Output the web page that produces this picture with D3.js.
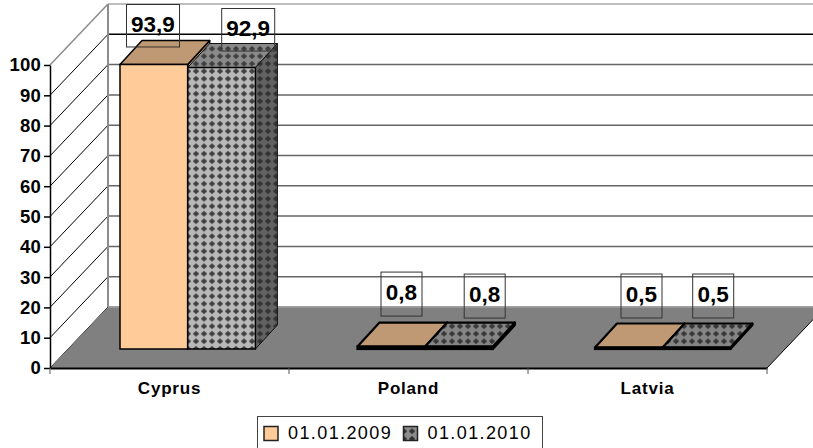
<!DOCTYPE html>
<html>
<head>
<meta charset="utf-8">
<script src="https://cdn.jsdelivr.net/npm/d3@7"></script>
<style>
    html, body { margin: 0; padding: 0; background: #fff; }
    svg { display: block; }
    text { font-family: "Liberation Sans", Arial, sans-serif; fill: #000; }
</style>
</head>
<body>
<svg width="813" height="448"></svg>
<script>
const categories = ["Cyprus", "Poland", "Latvia"];
const seriesNames = ["01.01.2009", "01.01.2010"];
const values2009 = [93.9, 0.8, 0.5];
const values2010 = [92.9, 0.8, 0.5];
const yTicks = [0, 10, 20, 30, 40, 50, 60, 70, 80, 90, 100];

const W = 813, H = 448;
const plot = {left: 50, right: 767, base: 368, top: 65};
const wall = {dx: 58, dy: 61};       // depth of the whole chart box
const bar = {dx: 22, dy: 24, lift: 19, start: 120, step: 237.5, width: 67.7};

// hand placed data labels, relative to the back top edge of each bar
const labelNudge = [
    [[-15.5, -36], [12, -35]],
    [[1.5, -50.5], [17, -48.5]],
    [[4, -49.5], [8, -49.5]]
];

const svg = d3.select("svg");
const defs = svg.append("defs");

function dots(id, bg, fg){
    const p = defs.append("pattern")
        .attr("id", id)
        .attr("patternUnits", "userSpaceOnUse")
        .attr("width", 8)
        .attr("height", 7.5);
    p.append("rect").attr("width", 8).attr("height", 7.5).attr("fill", bg);
    p.append("path").attr("d", "M4 0.8L5.2 2.2L6.2 2.6L7 3.8L6.2 5L5.2 5.4L4 6.8L2.8 5.4L1.8 5L1 3.8L1.8 2.6L2.8 2.2Z").attr("fill", fg);
}
dots("dotFront", "#b8b8b8", "#404040");
dots("dotTop", "#8a8a8a", "#404040");
dots("dotSide", "#626262", "#333333");
dots("dotFlat", "#858585", "#383838");
dots("dotLegend", "#8c8c8c", "#333333");

const x = d3.scaleBand().domain(categories).range([plot.left, plot.right]);
const xBar = d3.scaleBand().domain(categories).range([bar.start, bar.start + bar.step * categories.length]);
const y = d3.scaleLinear().domain([0, 100]).range([plot.base, plot.top]);
// bars stand on the floor, a bit behind the front edge
const yBar = d3.scaleLinear().domain([0, 100]).range([plot.base - bar.lift, plot.top - bar.lift]);
const line = d3.line();
const poly = pts => line(pts) + "Z";

// side wall and back wall
svg.append("path")
    .attr("d", poly([[plot.left, y(100)], [plot.left + wall.dx, y(100) - wall.dy], [plot.left + wall.dx, plot.base - wall.dy], [plot.left, plot.base]]))
    .attr("fill", "#fff");

svg.append("g").selectAll("line").data(yTicks).join("line")
    .attr("x1", plot.left)
    .attr("y1", d => y(d))
    .attr("x2", plot.left + wall.dx)
    .attr("y2", d => y(d) - wall.dy)
    .attr("stroke", d => d == 100 ? "#8c8c8c" : "#000")
    .attr("stroke-width", d => d == 100 ? 1.5 : 1);

svg.append("g").selectAll("line").data(yTicks).join("line")
    .attr("x1", plot.left + wall.dx)
    .attr("y1", d => y(d) - wall.dy)
    .attr("x2", W)
    .attr("y2", d => y(d) - wall.dy)
    .attr("stroke", d => d == 100 ? "#a8a8a8" : (d == 90 ? "#000" : "#666"))
    .attr("stroke-width", 1.5);

svg.append("line")
    .attr("x1", plot.left + wall.dx).attr("x2", plot.left + wall.dx)
    .attr("y1", y(100) - wall.dy).attr("y2", plot.base - wall.dy)
    .attr("stroke", "#8c8c8c").attr("stroke-width", 2);

// floor
svg.append("path")
    .attr("d", poly([[plot.left, plot.base], [plot.left + wall.dx, plot.base - wall.dy], [plot.right + wall.dx, plot.base - wall.dy], [plot.right, plot.base]]))
    .attr("fill", "#808080");
svg.append("line")
    .attr("x1", plot.left + wall.dx).attr("x2", W)
    .attr("y1", plot.base - wall.dy).attr("y2", plot.base - wall.dy)
    .attr("stroke", "#b0b0b0").attr("stroke-width", 1);
svg.append("line")
    .attr("x1", plot.right).attr("y1", plot.base)
    .attr("x2", plot.right + wall.dx).attr("y2", plot.base - wall.dy)
    .attr("stroke", "#000").attr("stroke-width", 1);

// bars, one group per series
const series = [
    {values: values2009, front: "#ffcc99", top: "#bf9973", side: "#bf9973", edge: 1.5, edgeColor: "#000"},
    {values: values2010, front: "url(#dotFront)", top: "url(#dotTop)", side: "url(#dotSide)", edge: 1, edgeColor: "#111"}
];

function drawBar(g, x0, v, s){
    const x1 = x0 + bar.width, b = yBar(0), t = yBar(v);
    const flat = v < 5;
    const edge = flat ? 2.2 : s.edge;
    const color = flat ? "#000" : s.edgeColor;
    g.append("path")
        .attr("d", poly([[x1, b], [x1 + bar.dx, b - bar.dy], [x1 + bar.dx, t - bar.dy], [x1, t]]))
        .attr("fill", s.side)
        .attr("stroke", color).attr("stroke-width", edge).attr("stroke-linejoin", "round");
    g.append("path")
        .attr("d", poly([[x0, t], [x0 + bar.dx, t - bar.dy], [x1 + bar.dx, t - bar.dy], [x1, t]]))
        .attr("fill", flat && s.top != series[0].top ? "url(#dotFlat)" : s.top)
        .attr("stroke", color).attr("stroke-width", edge).attr("stroke-linejoin", "round");
    g.append("rect")
        .attr("x", x0).attr("y", t)
        .attr("width", bar.width).attr("height", b - t)
        .attr("fill", flat ? "#000" : s.front)
        .attr("stroke", "#000").attr("stroke-width", flat ? 2.2 : 1.5);
}

const barsG = svg.append("g");
categories.forEach((c, i) => {
    series.forEach((s, j) => {
        drawBar(barsG, xBar(c) + j * bar.width, s.values[i], s);
    });
});

// data labels
const labelsG = svg.append("g");
categories.forEach((c, i) => {
    series.forEach((s, j) => {
        const v = s.values[i];
        const n = labelNudge[i][j];
        const bx = xBar(c) + j * bar.width + bar.dx + n[0];
        const by = yBar(v) - bar.dy + n[1];
        const w = v > 5 ? 53 : 41, h = v > 5 ? 42.5 : 44;
        labelsG.append("rect")
            .attr("x", bx).attr("y", by)
            .attr("width", w).attr("height", h)
            .attr("fill", "none")
            .attr("stroke", "#333").attr("stroke-width", 1);
        labelsG.append("text")
            .attr("x", bx + w / 2)
            .attr("y", by + (v > 5 ? 27.5 : 28))
            .attr("text-anchor", "middle")
            .attr("font-size", 22.5)
            .attr("font-weight", "bold")
            .text(String(v).replace(".", ","));
    });
});

// axes
const yAxis = svg.append("g")
    .attr("transform", `translate(${plot.left},0)`)
    .call(d3.axisLeft(y).tickValues(yTicks).tickSize(6).tickPadding(3).tickSizeOuter(0));
yAxis.select(".domain").attr("stroke", "#000").attr("stroke-width", 1.5);
yAxis.selectAll(".tick line").attr("stroke", "#000").attr("stroke-width", 1.5);
yAxis.selectAll("text")
    .attr("font-size", 18.5)
    .attr("font-weight", "bold")
    .style("font-family", '"Liberation Sans", Arial, sans-serif')
    .attr("letter-spacing", 0.2);

const xAxis = svg.append("g")
    .attr("transform", `translate(0,${plot.base})`)
    .call(d3.axisBottom(x).tickSize(0).tickPadding(14).tickSizeOuter(0));
xAxis.select(".domain").attr("stroke", "#000").attr("stroke-width", 2);
xAxis.selectAll("text")
    .attr("font-size", 17)
    .attr("font-weight", "bold")
    .style("font-family", '"Liberation Sans", Arial, sans-serif')
    .attr("letter-spacing", 0.8);

const edges = categories.map(c => x(c)).concat([plot.right]);
svg.append("g").selectAll("line").data(edges).join("line")
    .attr("x1", d => d).attr("x2", d => d)
    .attr("y1", plot.base).attr("y2", plot.base + 6)
    .attr("stroke", "#555").attr("stroke-width", 1);

// legend, its bottom edge is cut off by the picture
const legend = svg.append("g");
legend.append("rect")
    .attr("x", 257.5).attr("y", 416.5)
    .attr("width", 285).attr("height", 40)
    .attr("fill", "#fff").attr("stroke", "#444").attr("stroke-width", 1);
const legendFill = ["#ffcc99", "url(#dotLegend)"];
const legendX = [264, 403.5];
seriesNames.forEach((name, i) => {
    legend.append("rect")
        .attr("x", legendX[i]).attr("y", 426.5)
        .attr("width", 14).attr("height", 14)
        .attr("fill", legendFill[i])
        .attr("stroke", "#222").attr("stroke-width", 1.5);
    legend.append("text")
        .attr("x", legendX[i] + 24)
        .attr("y", 439)
        .attr("font-size", 18)
        .attr("letter-spacing", 1.4)
        .text(name);
});
</script>
</body>
</html>
